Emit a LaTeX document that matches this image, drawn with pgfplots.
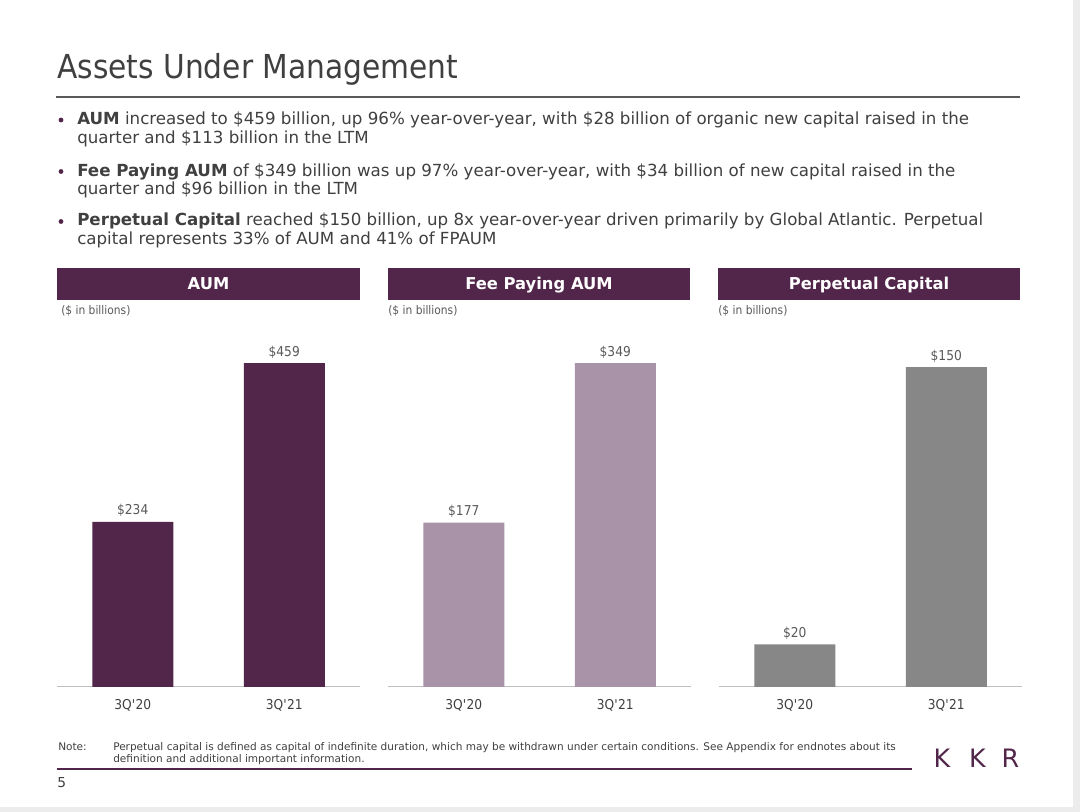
\documentclass[border=0pt]{standalone}
\usepackage{pgfplots}
\pgfplotsset{compat=1.18}
\usepackage{pgfplotstable}
\usepackage{fontspec}
\setmainfont{DejaVu Sans}[FakeStretch=0.9]
\newfontfamily\wide{DejaVu Sans}
\definecolor{kkr}{RGB}{82,38,74}
\definecolor{fpa}{RGB}{168,147,168}
\definecolor{perp}{RGB}{135,135,135}
\definecolor{txt}{RGB}{64,64,64}
\definecolor{lbl}{RGB}{89,89,89}
\definecolor{axg}{RGB}{191,191,191}
\definecolor{rule}{RGB}{89,89,89}
\definecolor{edge}{RGB}{236,236,236}
\newcommand{\fs}[1]{\fontsize{#1}{#1}\selectfont}
\pgfplotstableread{
x y
0 234
1 459
}\aumtab
\pgfplotstableread{
x y
0 177
1 349
}\fpatab
\pgfplotstableread{
x y
0 20
1 150
}\perptab
\pgfplotsset{panel/.style={
  width=227.25pt, height=260.25pt, scale only axis,
  anchor=south west,
  xmin=-0.5, xmax=1.5, ymin=0, enlargelimits=false,
  axis x line*=bottom, hide y axis,
  x axis line style={draw=axg, line width=0.75pt},
  xtick={0,1}, xticklabels={3Q\textquotesingle20,3Q\textquotesingle21},
  major tick length=0pt,
  xticklabel style={font=\fs{10.2pt}, text=txt, anchor=base, inner sep=0pt, yshift=-17pt},
  ybar, bar width=60.75pt,
  /pgf/number format/assume math mode=true,
  nodes near coords={\$\pgfmathprintnumber{\pgfplotspointmeta}},
  every node near coord/.append style={font=\fs{10.2pt}, text=lbl, anchor=base, inner sep=0pt, yshift=5.25pt},
  clip=false,
}}
\begin{document}
\begin{tikzpicture}
\begin{scope}[x=0.75pt,y=0.75pt]
\fill[white] (0,0) rectangle (1080,812);
\useasboundingbox (0,0) rectangle (1080,812);
\fill[edge] (1073,0) rectangle (1080,812);
\fill[edge] (0,0) rectangle (1080,5);
% title
\node[anchor=base west, inner sep=0, text=txt, font=\fs{24.75pt}] at (57,{812-79}) {Assets Under Management};
\draw[rule, line width=1.5pt] (56,{812-97}) -- (1020,{812-97});
% bullets
\foreach \yy in {120,171.5,221.5} \fill[kkr] (61,{812-\yy}) circle (2.4);
\begin{scope}[every node/.style={anchor=base west, inner sep=0, text=txt, font=\wide\fs{12.5pt}}]
\node at (77,{812-124.5}) {\textbf{AUM} increased to \$459 billion, up 96\% year-over-year, with \$28 billion of organic new capital raised in the};
\node at (77,{812-144}) {quarter and \$113 billion in the LTM};
\node at (77,{812-176.5}) {\textbf{Fee Paying AUM} of \$349 billion was up 97\% year-over-year, with \$34 billion of new capital raised in the};
\node at (77,{812-194.5}) {quarter and \$96 billion in the LTM};
\node at (77,{812-225.5}) {\textbf{Perpetual Capital} reached \$150 billion, up 8x year-over-year driven primarily by Global Atlantic. Perpetual};
\node at (77,{812-245}) {capital represents 33\% of AUM and 41\% of FPAUM};
\end{scope}
% headers
\fill[kkr] (57,{812-268}) rectangle (360,{812-300});
\fill[kkr] (388,{812-268}) rectangle (690,{812-300});
\fill[kkr] (718,{812-268}) rectangle (1020,{812-300});
\begin{scope}[every node/.style={anchor=base, inner sep=0, text=white, font=\wide\fs{12.25pt}\bfseries}]
\node at (208.5,{812-290}) {AUM};
\node at (539,{812-290}) {Fee Paying AUM};
\node at (869,{812-290}) {Perpetual Capital};
\end{scope}
\begin{scope}[every node/.style={anchor=base west, inner sep=0, text=lbl, font=\fs{8.9pt}}]
\node at (61,{812-315}) {(\$ in billions)};
\node at (388,{812-315}) {(\$ in billions)};
\node at (718,{812-315}) {(\$ in billions)};
\end{scope}
% note
\begin{scope}[every node/.style={anchor=base west, inner sep=0, text=txt, font=\wide\fs{7.9pt}}]
\node at (58,{812-751}) {Note:};
\node at (113,{812-751}) {Perpetual capital is defined as capital of indefinite duration, which may be withdrawn under certain conditions. See Appendix for endnotes about its};
\node at (113,{812-762.5}) {definition and additional important information.};
\end{scope}
\draw[kkr, line width=1.5pt] (57,{812-769}) -- (912,{812-769});
\node[anchor=base west, inner sep=0, text=txt, font=\wide\fs{10.3pt}] at (57,{812-788}) {5};
\begin{scope}[every node/.style={anchor=base, inner sep=0, text=kkr, font=\wide\fs{19pt}}]
\node at (942,{812-768}) {K};
\node at (977.5,{812-768}) {K};
\node at (1010.5,{812-768}) {R};
\end{scope}
\end{scope}
\begin{axis}[panel, at={(42.75pt,93.75pt)}, ymax=491.6]
\addplot[fill=kkr, draw=none] table[x=x,y=y] {\aumtab};
\end{axis}
\begin{axis}[panel, at={(291pt,93.75pt)}, ymax=373.8]
\addplot[fill=fpa, draw=none] table[x=x,y=y] {\fpatab};
\end{axis}
\begin{axis}[panel, at={(539.25pt,93.75pt)}, ymax=162.66]
\addplot[fill=perp, draw=none] table[x=x,y=y] {\perptab};
\end{axis}
\end{tikzpicture}
\end{document}
